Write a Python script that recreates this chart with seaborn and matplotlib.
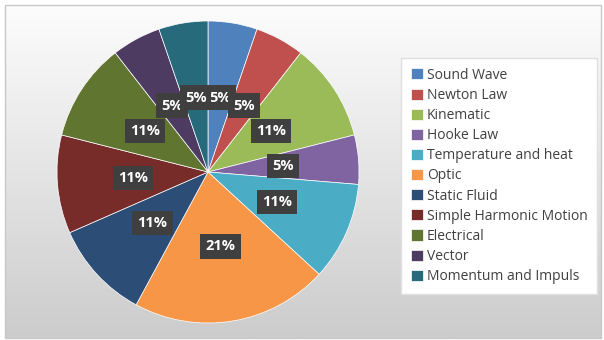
import numpy as np
import matplotlib
matplotlib.use("Agg")
import matplotlib.pyplot as plt
import seaborn as sns
from matplotlib.patches import Rectangle

# data
topics = ["Sound Wave", "Newton Law", "Kinematic", "Hooke Law", "Temperature and heat",
          "Optic", "Static Fluid", "Simple Harmonic Motion", "Electrical", "Vector",
          "Momentum and Impuls"]
counts = [1, 1, 2, 1, 2, 4, 2, 2, 2, 1, 1]
colors = ["#4F81BD", "#C0504D", "#9BBB59", "#8064A2", "#4BACC6", "#F79646",
          "#2C4D75", "#772C2A", "#5F7530", "#4D3B62", "#276A7C"]

sns.set_theme(style="white")
plt.rcParams['font.family'] = ['Open Sans', 'DejaVu Sans']

W, H = 604, 340
fig = plt.figure(figsize=(W / 100, H / 100), dpi=100)
fig.patch.set_facecolor("white")

# background with vertical gradient and thin border
bg = fig.add_axes([0, 0, 1, 1], zorder=-5)
grad = np.linspace(0.99, 0.80, 256).reshape(-1, 1)
bg.imshow(np.dstack([grad, grad, grad]), extent=(5, 601, 338, 5), aspect="auto")
bg.add_patch(Rectangle((5, 5), 596, 333, fill=False, edgecolor="#c8c8c8", lw=1))
bg.set_xlim(0, W)
bg.set_ylim(H, 0)
bg.axis("off")

# pie
cx, cy, r = 208, 172, 151
ax = fig.add_axes([(cx - r) / W, (H - cy - r) / H, 2 * r / W, 2 * r / H])
pal = sns.color_palette(colors)
wedges, texts, autotexts = ax.pie(
    counts, colors=pal, startangle=90, counterclock=False,
    autopct=lambda p: f"{p:.0f}%", pctdistance=0.5,
    wedgeprops=dict(edgecolor="white", linewidth=0.5),
)
for t in autotexts:
    t.set_color("white")
    t.set_fontsize(10.5)
    t.set_fontweight("bold")
    t.set_bbox(dict(boxstyle="square,pad=0.35", facecolor="#3f3f3f", edgecolor="none"))
ax.set_xlim(-1, 1)
ax.set_ylim(-1, 1)
ax.set_aspect("equal")
ax.axis("off")

# legend
leg = fig.legend(wedges, topics, loc="upper left",
                 bbox_to_anchor=(401 / W, 1 - 58 / H),
                 fontsize=10, labelcolor="#404040",
                 frameon=True, fancybox=False, edgecolor="#e0e0e0",
                 facecolor="white", framealpha=1,
                 handlelength=0.85, handleheight=0.85, handletextpad=0.3,
                 labelspacing=0.37, borderpad=0.7, borderaxespad=0)

fig.savefig("out.png", dpi=100)
